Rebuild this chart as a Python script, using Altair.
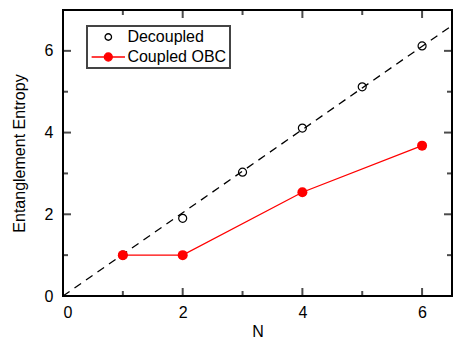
import altair as alt
import pandas as pd

# Entanglement entropy versus N
n_decoupled = [1, 2, 3, 4, 5, 6]
s_decoupled = [1.00, 1.90, 3.03, 4.11, 5.12, 6.12]
n_coupled = [1, 2, 4, 6]
s_coupled = [1.00, 1.00, 2.54, 3.68]
guide_n = [0, 6.5]
guide_s = [0, 6.62]
series_names = ["Decoupled", "Coupled OBC"]
major_ticks = [0, 2, 4, 6]
minor_ticks = [1, 3, 5]

W, H = 389, 286
FONT = "Liberation Sans"
RED = "#ff0000"
# legend glyphs; both span the same width so the labels line up
RING = "M-5.15,0M5.15,0M1,0A1,1,0,1,1,-1,0A1,1,0,1,1,1,0Z"
LINE_DOT = "M-4.17,0L4.17,0M1,0A1,1,0,1,1,-1,0A1,1,0,1,1,1,0Z"

dec = pd.DataFrame({"N": n_decoupled, "S": s_decoupled, "series": series_names[0]})
cpl = pd.DataFrame({"N": n_coupled, "S": s_coupled, "series": series_names[1]})
both = pd.concat([dec, cpl], ignore_index=True)
guide = pd.DataFrame({"N": guide_n, "S": guide_s})
major = pd.DataFrame({"v": major_ticks})
minor = pd.DataFrame({"v": minor_ticks})

x_scale = alt.Scale(domain=[0, 6.5], nice=False, zero=False)
y_scale = alt.Scale(domain=[0, 7], nice=False, zero=False)
x_axis = alt.Axis(values=major_ticks, title="N", ticks=False, domain=False, grid=False,
                  labelPadding=8, titlePadding=3, format="d")
y_axis = alt.Axis(values=major_ticks, title="Entanglement Entropy", ticks=False, domain=False,
                  grid=False, labelPadding=10, titlePadding=17, format="d")


def X(field):
    return alt.X(field, scale=x_scale, axis=x_axis)


def Y(field):
    return alt.Y(field, scale=y_scale, axis=y_axis)


dashed = alt.Chart(guide).mark_line(color="black", strokeWidth=1.3, strokeDash=[8, 6]).encode(
    x=X("N:Q"), y=Y("S:Q"))

red_line = alt.Chart(cpl).mark_line(color=RED, strokeWidth=1.3).encode(x=X("N:Q"), y=Y("S:Q"))

dec_pts = alt.Chart(dec).mark_point(shape="circle", filled=False, color="black", size=64,
                                    strokeWidth=1.2, opacity=1).encode(x=X("N:Q"), y=Y("S:Q"))

cpl_pts = alt.Chart(cpl).mark_circle(color=RED, size=100, opacity=1).encode(x=X("N:Q"), y=Y("S:Q"))


# inward ticks on all four sides: each tick is centred on the frame and clipped to the plot
def x_ticks(df, length, ypix):
    return alt.Chart(df).mark_tick(orient="vertical", color="black", thickness=2, size=2 * length,
                                   clip=True).encode(x=X("v:Q"), y=alt.value(ypix))


def y_ticks(df, length, xpix):
    return alt.Chart(df).mark_tick(orient="horizontal", color="black", thickness=2, size=2 * length,
                                   clip=True).encode(y=Y("v:Q"), x=alt.value(xpix))


tick_layers = []
for df, length in [(major, 8), (minor, 5)]:
    tick_layers += [x_ticks(df, length, H), x_ticks(df, length, 0),
                    y_ticks(df, length, 0), y_ticks(df, length, W)]

legend = alt.Legend(title=None, orient="none", legendX=24, legendY=16,
                    strokeColor="#444444", padding=3, rowPadding=4,
                    labelFont=FONT, labelFontSize=16, labelColor="black",
                    symbolOpacity=1, symbolStrokeWidth=1.3, symbolOffset=10.3, labelOffset=11.1)

key = alt.Chart(both).mark_point(opacity=0, strokeWidth=1.3).encode(
    x=X("N:Q"), y=Y("S:Q"),
    shape=alt.Shape("series:N", scale=alt.Scale(domain=series_names, range=[RING, LINE_DOT]), legend=legend),
    fill=alt.Fill("series:N", scale=alt.Scale(domain=series_names, range=["white", RED]), legend=legend),
    stroke=alt.Stroke("series:N", scale=alt.Scale(domain=series_names, range=["black", RED]), legend=legend),
    size=alt.Size("series:N", scale=alt.Scale(domain=series_names, range=[42, 64]), legend=legend),
)

chart = alt.layer(
    dashed, red_line, dec_pts, cpl_pts, *tick_layers, key,
).properties(
    width=W, height=H,
    background="white",
    padding={"left": 63, "top": 10, "right": 3, "bottom": 42},
    autosize=alt.AutoSizeParams(type="none"),
).configure_view(
    stroke="black", strokeWidth=2,
).configure_axis(
    labelFont=FONT, labelFontSize=16, labelColor="black",
    titleFont=FONT, titleFontSize=16, titleFontWeight="normal", titleColor="black",
).configure_legend(
    strokeColor="#444444", strokeWidth=2,
)

chart.save("out.html", embed_options={"renderer": "svg", "actions": False})
